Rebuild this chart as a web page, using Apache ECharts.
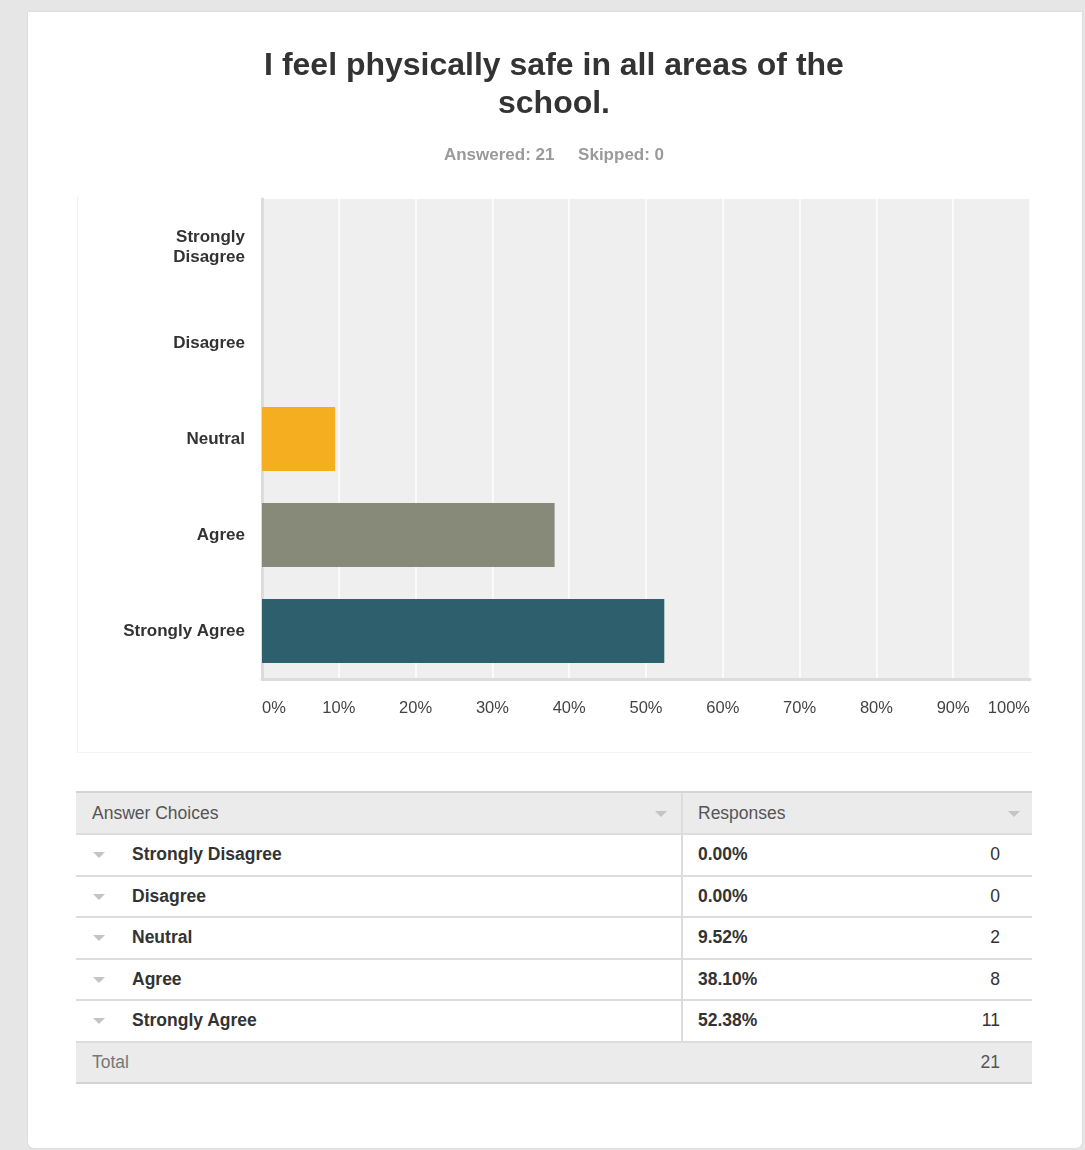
<!DOCTYPE html>
<html>
<head>
<meta charset="utf-8">
<script src="https://cdn.jsdelivr.net/npm/echarts@6/dist/echarts.min.js"></script>
<style>
  html, body { margin: 0; padding: 0; background: #e6e6e6; }
  body { width: 1085px; height: 1150px; position: relative; overflow: hidden;
         font-family: "Liberation Sans", Arial, Helvetica, sans-serif; }
  #card { position: absolute; left: 28px; top: 12px; width: 1054px; height: 1136px;
          background: #fff; border-radius: 0 0 6px 6px; box-shadow: 0 0 2px rgba(0,0,0,0.12); }
  #panel { position: absolute; left: 77px; top: 196px; width: 954px; height: 556px;
           border-left: 1px solid #f1f1f1; border-bottom: 1px solid #f3f3f3; }
  #chart { position: absolute; left: 0; top: 0; width: 1085px; height: 770px; }
  #table { position: absolute; left: 76px; top: 791px; width: 956px; }
  .row { position: relative; height: 39.5px; border-bottom: 2px solid #dcdcdc; }
  .row.head { background: #ebebeb; border-top: 2px solid #d4d4d4; height: 40px; }
  .row.total { background: #ebebeb; border-bottom: 2px solid #d4d4d4; height: 39px; }
  .cell { position: absolute; top: 0; height: 100%; display: flex; align-items: center;
          font-size: 17.5px; color: #333; }
  .c1 { left: 0; width: 605px; }
  .c2 { left: 605px; width: 351px; border-left: 2px solid #dcdcdc; box-sizing: border-box; }
  .head .cell { color: #555; font-weight: normal; }
  .bold { font-weight: bold; }
  .tri { position: absolute; width: 0; height: 0; border-left: 6px solid transparent;
         border-right: 6px solid transparent; border-top: 6px solid #c4c4c4; }
  .num { position: absolute; right: 32px; }
</style>
</head>
<body>
<div id="card"></div>
<div id="panel"></div>
<div id="chart"></div>
<div id="table"></div>
<script>
// Survey question and answer data
const questionTitle = 'I feel physically safe in all areas of the\nschool.';
const answeredCount = 21;
const skippedCount = 0;
const categories = ['Strongly Disagree', 'Disagree', 'Neutral', 'Agree', 'Strongly Agree'];
const percents = [0.00, 0.00, 9.52, 38.10, 52.38];
const counts = [0, 0, 2, 8, 11];
const barColors = ['#5a7b8a', '#c0c0b0', '#f5ae1f', '#878a78', '#2e5f6c'];
const xTicks = [0, 10, 20, 30, 40, 50, 60, 70, 80, 90, 100];

const chart = echarts.init(document.getElementById('chart'), null, { renderer: 'canvas' });

chart.setOption({
  animation: false,
  title: {
    text: questionTitle,
    subtext: 'Answered: ' + answeredCount + '     Skipped: ' + skippedCount,
    left: 549,
    textAlign: 'center',
    top: 42,
    itemGap: 24,
    textStyle: {
      fontFamily: 'Liberation Sans', fontWeight: 'bold', fontSize: 32,
      color: '#333', lineHeight: 38
    },
    subtextStyle: {
      fontFamily: 'Liberation Sans', fontWeight: 'bold', fontSize: 17, color: '#9a9a9a'
    }
  },
  grid: {
    left: 262, top: 199, width: 768, height: 480,
    show: true, backgroundColor: '#efefef', borderWidth: 0
  },
  xAxis: {
    type: 'value',
    min: xTicks[0],
    max: xTicks[xTicks.length - 1],
    interval: xTicks[1] - xTicks[0],
    axisLine: { show: true, lineStyle: { color: '#dcdcdc', width: 3 } },
    axisTick: { show: false },
    splitLine: { show: true, lineStyle: { color: '#ffffff', width: 1.5 } },
    axisLabel: {
      formatter: '{value}%', margin: 21, fontSize: 16.5, color: '#444',
      fontFamily: 'Liberation Sans',
      alignMinLabel: 'left', alignMaxLabel: 'right'
    }
  },
  yAxis: {
    type: 'category',
    data: categories,
    inverse: true,
    axisLine: { show: true, lineStyle: { color: '#dcdcdc', width: 3 } },
    axisTick: { show: false },
    axisLabel: {
      margin: 17, fontSize: 17, fontWeight: 'bold', color: '#333',
      fontFamily: 'Liberation Sans', lineHeight: 20,
      formatter: v => v === 'Strongly Disagree' ? 'Strongly\nDisagree' : v
    }
  },
  series: [{
    type: 'bar',
    barWidth: 64,
    data: percents.map((v, i) => ({ value: v, itemStyle: { color: barColors[i] } }))
  }]
});

// Answer summary table below the chart
const table = document.getElementById('table');
function tri(left, top) {
  return '<span class="tri" style="left:' + left + 'px;top:' + top + 'px"></span>';
}
let html = '<div class="row head">' +
  '<div class="cell c1"><span style="margin-left:16px">Answer Choices</span>' + tri(579, 18) + '</div>' +
  '<div class="cell c2"><span style="margin-left:15px">Responses</span>' + tri(325, 18) + '</div></div>';
categories.forEach((c, i) => {
  html += '<div class="row">' +
    '<div class="cell c1">' + tri(17, 17) + '<span class="bold" style="margin-left:56px">' + c + '</span></div>' +
    '<div class="cell c2"><span class="bold" style="margin-left:15px">' + percents[i].toFixed(2) + '%</span>' +
    '<span class="num">' + counts[i] + '</span></div></div>';
});
html += '<div class="row total">' +
  '<div class="cell c1" style="color:#777"><span style="margin-left:16px">Total</span></div>' +
  '<div class="cell" style="left:605px;width:351px;color:#555"><span class="num">' + answeredCount + '</span></div></div>';
table.innerHTML = html;
</script>
</body>
</html>
